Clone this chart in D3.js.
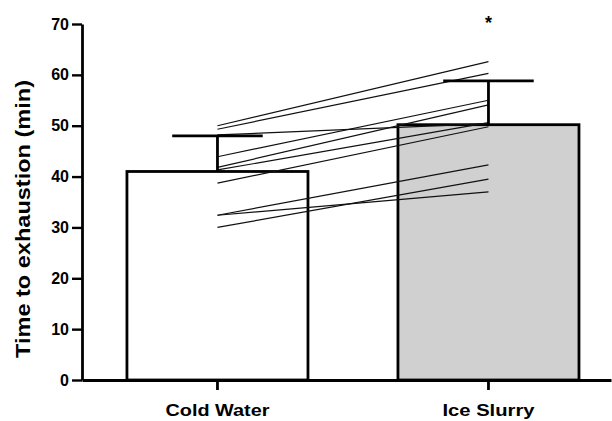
<!DOCTYPE html>
<meta charset="utf-8">

<!-- Load d3.js -->
<script src="https://d3js.org/d3.v7.min.js"></script>

<style>
  body { margin: 0; background: #fff; }
  text { font-family: "Liberation Sans", Arial, sans-serif; font-weight: bold; }
</style>

<body>
<div id="visual"></div>

<script>

  // group means and SD (min)
  var groups = ["Cold Water", "Ice Slurry"];
  var means = [41.0, 50.2];
  var sds = [7.0, 8.6];

  // individual subjects: cold water -> ice slurry
  var coldWater = [50.0, 49.3, 48.2, 43.9, 41.8, 41.3, 38.7, 32.4, 30.0, 32.4];
  var iceSlurry = [62.6, 60.3, 50.4, 55.0, 54.1, 50.6, 49.8, 42.3, 39.5, 37.0];

  var yTicks = [0, 10, 20, 30, 40, 50, 60, 70];

  // set the dimensions and margins of the graph
  var margin = {top: 24, right: 1, bottom: 41, left: 82},
      width = 612 - margin.left - margin.right,
      height = 421 - margin.top - margin.bottom;

  // append the svg object to the body of the page
  var svg = d3.select("#visual")
    .append("svg")
      .attr("width", width + margin.left + margin.right)
      .attr("height", height + margin.top + margin.bottom)
    .append("g")
      .attr("transform", "translate(" + margin.left + "," + margin.top + ")");

  // X scale
  var x = d3.scaleBand()
    .domain(groups)
    .range([0, width])
    .paddingInner(0.332)
    .paddingOuter(0.142)
    .align(0.584);

  // Y scale
  var y = d3.scaleLinear()
    .domain([0, 70])
    .range([height, 0]);

  var fills = ["#ffffff", "#d0d0d0"];

  // bars
  svg.selectAll(".bar")
    .data(groups)
    .enter()
    .append("rect")
      .attr("class", "bar")
      .attr("x", function(d) { return x(d); })
      .attr("y", function(d, i) { return y(means[i]); })
      .attr("width", x.bandwidth())
      .attr("height", function(d, i) { return height - y(means[i]); })
      .attr("fill", function(d, i) { return fills[i]; })
      .attr("stroke", "#000")
      .attr("stroke-width", 2.8);

  // individual lines
  var cx0 = x(groups[0]) + x.bandwidth() / 2,
      cx1 = x(groups[1]) + x.bandwidth() / 2;
  svg.selectAll(".subj")
    .data(coldWater)
    .enter()
    .append("line")
      .attr("class", "subj")
      .attr("x1", cx0)
      .attr("x2", cx1)
      .attr("y1", function(d) { return y(d); })
      .attr("y2", function(d, i) { return y(iceSlurry[i]); })
      .attr("stroke", "#111")
      .attr("stroke-width", 1.2);

  // error bars (upper only)
  var capHalf = x.bandwidth() / 4;
  groups.forEach(function(g, i) {
    var c = x(g) + x.bandwidth() / 2;
    svg.append("line")
      .attr("x1", c).attr("x2", c)
      .attr("y1", y(means[i])).attr("y2", y(means[i] + sds[i]))
      .attr("stroke", "#000").attr("stroke-width", 2.8);
    svg.append("line")
      .attr("x1", c - capHalf).attr("x2", c + capHalf)
      .attr("y1", y(means[i] + sds[i])).attr("y2", y(means[i] + sds[i]))
      .attr("stroke", "#000").attr("stroke-width", 2.8);
  });

  // significance mark
  svg.append("text")
    .attr("x", cx1)
    .attr("y", 5)
    .attr("text-anchor", "middle")
    .attr("font-size", 18)
    .attr("font-weight", "normal")
    .text("*");

  // Add X axis
  var xAxis = svg.append("g")
    .attr("transform", "translate(0," + height + ")")
    .call(d3.axisBottom(x).tickSize(10).tickSizeOuter(0).tickPadding(14));
  xAxis.select(".domain").attr("stroke-width", 2.8);
  xAxis.selectAll(".tick line").attr("stroke-width", 2.8);
  xAxis.selectAll(".tick text")
    .attr("font-size", 17)
    .attr("textLength", 104)
    .attr("lengthAdjust", "spacingAndGlyphs")
    .attr("fill", "#000");
  xAxis.selectAll(".tick text")
    .filter(function(d) { return d === "Ice Slurry"; })
    .attr("textLength", 92);

  // Add Y axis
  var yAxis = svg.append("g")
    .call(d3.axisLeft(y).tickValues(yTicks).tickSize(10).tickSizeOuter(0).tickPadding(3));
  yAxis.select(".domain").attr("stroke-width", 2.8);
  yAxis.selectAll(".tick line").attr("stroke-width", 2.4);
  yAxis.selectAll(".tick text")
    .attr("font-size", 16)
    .attr("fill", "#000");

  // Y axis title
  svg.append("text")
    .attr("transform", "rotate(-90)")
    .attr("x", -195)
    .attr("y", -52)
    .attr("text-anchor", "middle")
    .attr("font-size", 20)
    .attr("textLength", 278)
    .attr("lengthAdjust", "spacingAndGlyphs")
    .text("Time to exhaustion (min)");

</script>
</body>
</html>
